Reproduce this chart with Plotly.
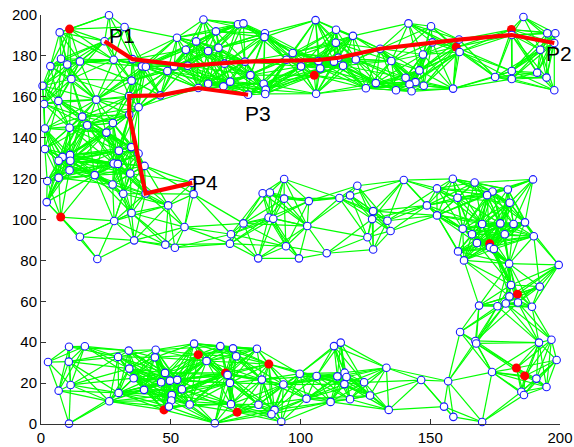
import plotly.graph_objects as go

node_x = [26.2,32.2,7.2,24.5,52.4,62.6,67.4,59.8,55.8,64.4,7.7,3.6,10.1,15,28,35.3,38.9,40.4,48.7,51.3,56.5,0.6,11.7,34.9,64.4,60.6,46,6.7,1.2,21.3,34,37.6,34,15.9,
 1.5,11,17.8,27.7,25.2,1.5,34.8,30,37.6,11.2,8.3,6.8,11.3,28,29.6,39.9,11,20.7,34.4,6.8,2.4,27.6,31.7,40.3,58.3,58.8,2.2,49,34.9,28.2,55.3,15,35.9,47.9,51.6,21.7,
 105.8,113.7,120.2,75.9,78,86.3,86.1,113.6,68.4,97,130.7,94.6,78.6,70.7,106.9,114.6,112.9,121.3,135,100.2,107.6,116.4,80.7,72.9,70.3,85.8,86.6,86.4,79.8,129,125.2,136.8,106,
 141.6,150.3,185.9,195.1,198.2,161.1,150.8,181.4,161.3,197.8,192.4,147.2,145.8,140.5,144.3,142,147.5,142.8,158.8,175,181.4,181.4,191.2,194.8,197.8,
 93.7,85.4,88.2,93.7,103.2,115,119.1,121.9,128,127.6,133.5,134.7,78,87.7,89.5,102.6,73.2,72.8,94.4,83.7,99.4,110.1,125.8,128,
 139.8,158.7,152.6,167.1,189.6,179.9,174,171.9,160.5,180.6,148.7,152.6,186.5,182.1,177,170,162.5,166.1,178.7,189.9,168,173,174.5,160.7,163,180.4,199.5,181.1,192.2,180.5,183.8,179.1,175.9,168.8,189.2,
 161.5,167.4,167.7,191.9,196.7,198.7,173.8,190.9,194.8,185.1,186.1,156.9,146.5,133.1,134,155.3,158.9,170,
 69.1,74,75.2,83.2,71.9,72.8,85.1,93.4,99.7,106.2,112.9,115.5,114.2,117,117.7,116.9,124.5,102.3,111.6,119.1,126.8,73.2,83.8,90,88.8,92.6,67,
 10.8,16.9,2.7,10.7,29.7,33.8,44.2,43.9,59,63.8,34,35.7,47.8,46.3,49.7,52.5,11.4,6.8,29.9,39.7,54.3,26.3,50.4,50.2,49.3,57.3,10.8]
node_y = [199.9,194.1,191.5,187.2,188.9,197.8,192,187.1,183,182.4,178.6,175,175.8,177.3,178.1,178.4,174.9,174.7,172.6,175,175.2,165.4,168.7,167.9,166.4,164.3,160.7,158,156.5,158.6,160.4,154.9,151.3,150.3,
 144.5,144.9,146.1,147.2,142.5,134.5,135.4,133.6,132.3,131.6,130.6,128.7,128.7,127.4,127.2,126.2,124.1,121.7,122.5,120.4,118.8,117.1,112.6,112.7,117.9,112.4,108.5,106.9,103.2,99.3,96.3,91.6,89.8,87.7,86.2,80.7,
 197.5,192.8,189.8,195.5,195.9,191.1,189.2,186.4,184,181.4,183.5,178.1,177.2,176.2,177.5,179.1,177.2,178.3,177.5,174.9,173.9,175.2,170.6,167.4,165.1,166.4,163.5,161.4,161,166.7,164.2,163.2,161.5,
 195.9,194.5,199,191.1,191.1,188,186.6,190.2,181.9,186.3,183,180.7,172.9,169.3,167.2,166.1,165.4,162.7,164,169.7,172.6,168.7,171.8,169.4,163.2,
 119.8,112.8,113.2,110.2,109,110.5,111.8,116.5,104.1,100.2,99.4,94.4,98.1,101,100.4,96.8,92.8,88.2,86.9,81,81,83.5,91.3,85.3,
 119.3,119.9,115.2,118.1,119.6,114.7,113.7,111.9,110.6,108.2,106.9,102,98.6,97.8,98.1,97.8,95.5,92.8,92.8,91.8,88.5,86.4,85.6,84.4,80,78.4,77.8,68,67.2,62.4,59.4,58.9,57.6,57.9,57.3,
 45,40.6,39.4,39.8,41.2,31.3,25.4,22.2,18.1,15.8,14.2,20.9,21.5,27.5,6.9,8.5,3.5,1,
 38.1,37,33.1,36.8,24,20.1,21.7,19.3,24.6,23.5,38.1,39.8,23.3,25.1,23,19.5,20.4,12.4,10.8,12.1,13.9,9.7,9.4,6.9,4.8,1.1,0.4,
 37.8,38,30.3,30.5,32.8,35.9,36.3,32.6,39.3,30.8,27.1,22.4,25,20.4,21.2,21.6,19.1,16.3,15.2,16.7,17,11.1,14.2,11.5,8.5,9.5,0.2]

anchor_x = [11,7.6,105.3,181.3,160,172.9,183.6,183.2,186.4,87.8,71.1,75.6,60.6,47.4]
anchor_y = [193.1,101.2,170.5,192.9,184.3,88.2,63.5,27.4,23.5,29.3,25,5.8,33.9,6.9]

path1_x = [24.5,35.3,56.5,78.6,106.9,114.6,130.7,161.1,181.4,197.8]
path1_y = [187.2,178.4,175.2,177.2,178,179.1,183.5,188,190.2,186.3]
path2_x = [79.8,60.6,46,34,34,40.3,58.3]
path2_y = [161,164.3,160.7,160.4,151.3,112.7,117.9]

labels = ["P1","P2","P3","P4"]
label_x = [26.2,194.5,78.5,58.1]
label_y = [190,181,152,118]

radio_range = 25

all_x = node_x + anchor_x
all_y = node_y + anchor_y
edge_x, edge_y = [], []
for i in range(len(all_x)):
    for j in range(i + 1, len(all_x)):
        if (all_x[i]-all_x[j])**2 + (all_y[i]-all_y[j])**2 <= radio_range**2:
            edge_x += [all_x[i], all_x[j], None]
            edge_y += [all_y[i], all_y[j], None]

fig = go.Figure()
fig.add_trace(go.Scatter(x=edge_x, y=edge_y, mode="lines", line=dict(color="#00ff00", width=1.2), hoverinfo="skip"))
fig.add_trace(go.Scatter(x=anchor_x, y=anchor_y, mode="markers", cliponaxis=False, marker=dict(color="#ff0000", size=9, line=dict(width=0))))
fig.add_trace(go.Scatter(x=node_x, y=node_y, mode="markers", cliponaxis=False, marker=dict(color="white", size=7.5, line=dict(color="#1a1aff", width=1.1))))
for px, py in ((path1_x, path1_y), (path2_x, path2_y)):
    fig.add_trace(go.Scatter(x=px, y=py, mode="lines", line=dict(color="#ff0000", width=4.2)))
for t, x, y in zip(labels, label_x, label_y):
    fig.add_annotation(x=x, y=y, text=t, showarrow=False, xanchor="left", yanchor="middle", xshift=-2,
                       font=dict(family="Liberation Sans", size=21, color="black"))

axis = dict(showgrid=False, zeroline=False, showline=True, linecolor="#333333", linewidth=1,
            ticks="inside", ticklen=5, tickcolor="#333333", tickwidth=1,
            tickfont=dict(family="Liberation Sans", size=15, color="black"))
fig.update_xaxes(range=[0, 200], tickvals=list(range(0, 201, 50)), **axis)
fig.update_yaxes(range=[0, 200], tickvals=list(range(0, 201, 20)), **axis)
fig.update_layout(width=574, height=447, showlegend=False, plot_bgcolor="white", paper_bgcolor="white",
                  margin=dict(l=41, r=13.5, t=14.7, b=22.5, autoexpand=False))
fig.write_html("out.html", config={"displayModeBar": False},
               post_script="document.body.style.margin='0';document.documentElement.style.overflow='hidden';")
